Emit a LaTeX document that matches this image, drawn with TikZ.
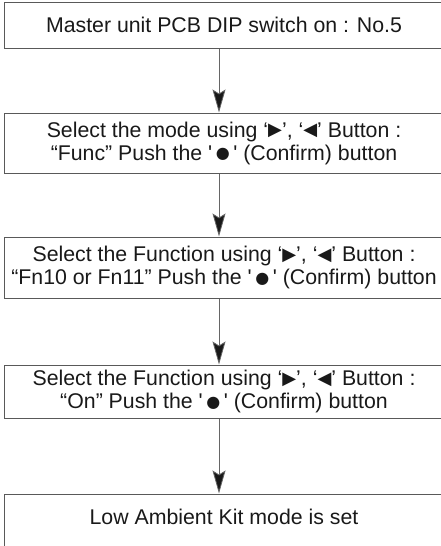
\documentclass[tikz,border=0pt]{standalone}
\usepackage{fontspec}
\setmainfont{Liberation Sans}
\newfontfamily\symfont{DejaVu Sans}
\usetikzlibrary{arrows.meta}

\newcommand{\rtri}{\raisebox{1.2pt}{\symfont\fontsize{18}{18}\selectfont ▶}}
\newcommand{\ltri}{\raisebox{1.2pt}{\symfont\fontsize{18}{18}\selectfont ◀}}
\newcommand{\bdot}{\,\raisebox{1.5pt}{\symfont\fontsize{16}{16}\selectfont ●}\,}

\tikzset{
  stepbox/.style={draw=black!65, line width=1pt, text=black!90, minimum width=440pt,
    inner sep=0pt, align=center, font=\fontsize{21.3}{23}\selectfont},
  flow/.style={draw=black!60, line width=0.8pt,
    -{Stealth[length=23pt, width=13pt, inset=4pt, fill=black!90]}}
}

\begin{document}
\begin{tikzpicture}[x=1pt, y=-1pt]
            \useasboundingbox (0,0) rectangle (441,546);

            % Draw steps
            \node[stepbox, minimum height=46pt] (s1) at (224,25) {Master unit PCB DIP switch on : No.5};
            \node[stepbox, minimum height=60pt] (s2) at (224,143) {Select the mode using ‘\rtri’, ‘\ltri’ Button :\\“Func” Push the \textquotesingle\bdot\textquotesingle\ (Confirm) button};
            \node[stepbox, minimum height=61pt] (s3) at (224,267.5) {Select the Function using ‘\rtri’, ‘\ltri’ Button :\\“Fn10 or Fn11” Push the \textquotesingle\bdot\textquotesingle\ (Confirm) button};
            \node[stepbox, minimum height=53pt] (s4) at (224,391.5) {Select the Function using ‘\rtri’, ‘\ltri’ Button :\\“On” Push the \textquotesingle\bdot\textquotesingle\ (Confirm) button};
            \node[stepbox, minimum height=60pt, text height=15pt, text depth=15pt] (s5) at (224,524) {Low Ambient Kit mode is set};

            % Draw connections
            \draw[flow] ([xshift=-5pt]s1.south) -- ([xshift=-5pt]s2.north);
            \draw[flow] ([xshift=-5pt]s2.south) -- ([xshift=-5pt]s3.north);
            \draw[flow] ([xshift=-5pt]s3.south) -- ([xshift=-5pt]s4.north);
            \draw[flow] ([xshift=-5pt]s4.south) -- ([xshift=-5pt]s5.north);
        \end{tikzpicture}
\end{document}
